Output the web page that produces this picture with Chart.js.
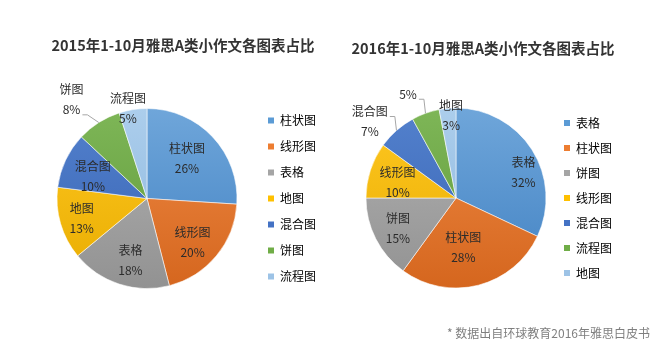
<!DOCTYPE html>
<html>
<head>
<meta charset="utf-8">
<script src="https://cdn.jsdelivr.net/npm/chart.js@4"></script>
<style>
  body { margin: 0; background: #fff; }
  #wrap { position: relative; width: 660px; height: 350px; overflow: hidden; font-family: "Noto Sans CJK SC", sans-serif; }
  canvas { position: absolute; top: 0; }
  .ttl { position: absolute; font-size: 14.5px; font-weight: bold; color: #333; white-space: nowrap; transform: translate(-50%, -50%); }
  #note { position: absolute; right: 10px; top: 324px; font-size: 12px; color: #7f7f7f; white-space: nowrap; }
</style>
</head>
<body>
<div id="wrap">
  <canvas id="pie2015" width="330" height="350" style="left:0"></canvas>
  <canvas id="pie2016" width="330" height="350" style="left:330px"></canvas>
  <div class="ttl" style="left:183px; top:44px">2015年1-10月雅思A类小作文各图表占比</div>
  <div class="ttl" style="left:483px; top:47px">2016年1-10月雅思A类小作文各图表占比</div>
  <div id="note">* 数据出自环球教育2016年雅思白皮书</div>
</div>
<script>
// 图表数据
var labels2015 = ['柱状图', '线形图', '表格', '地图', '混合图', '饼图', '流程图'];
var values2015 = [26, 20, 18, 13, 10, 8, 5];
var labels2016 = ['表格', '柱状图', '饼图', '线形图', '混合图', '流程图', '地图'];
var values2016 = [32, 28, 15, 10, 7, 5, 3];

// excel 风格配色 (浅 / 深, 做渐变)
var baseColors = ['#5B9BD5', '#ED7D31', '#A5A5A5', '#FFC000', '#4472C4', '#70AD47', '#9DC3E6'];
var lightColors = ['#6fa6da', '#ef8a45', '#b2b2b2', '#ffc822', '#5381cd', '#7eb657', '#acceec'];
var darkColors = ['#4282c3', '#d5661e', '#929292', '#e8ac00', '#3763b3', '#5f9939', '#8bb5dd'];

var fontFamily = '"Noto Sans CJK SC", sans-serif';

function sliceFill(context) {
    var i = context.dataIndex;
    var chart = context.chart;
    var area = chart.chartArea;
    if (!area) return baseColors[i];
    var cy = (area.top + area.bottom) / 2;
    var g = chart.ctx.createLinearGradient(0, cy - 90, 0, cy + 90);
    g.addColorStop(0, lightColors[i]);
    g.addColorStop(1, darkColors[i]);
    return g;
}

// 扇区标签 + 引导线
var sliceLabels = {
    id: 'sliceLabels',
    afterDatasetsDraw: function(chart, args, opts) {
        var ctx = chart.ctx;
        var meta = chart.getDatasetMeta(0);
        var data = chart.data.datasets[0].data;
        ctx.save();
        ctx.font = '12px ' + fontFamily;
        ctx.textAlign = 'center';
        ctx.textBaseline = 'middle';
        meta.data.forEach(function(arc, i) {
            var p = opts.place[i];
            var mid = (arc.startAngle + arc.endAngle) / 2;
            var ang = mid + p.da * Math.PI / 180;
            var r = arc.outerRadius * p.r;
            var x = arc.x + Math.cos(ang) * r;
            var y = arc.y + Math.sin(ang) * r;
            var lines = p.noName ? [data[i] + '%'] : [chart.data.labels[i], data[i] + '%'];
            var top = y - (lines.length - 1) * 10;
            ctx.fillStyle = '#2b2b2b';
            lines.forEach(function(t, k) {
                ctx.fillText(t, x, top + k * 20);
            });
            if (p.leader) {
                var k = p.leaderLine !== undefined ? p.leaderLine : lines.length - 1;
                var sx = x + ctx.measureText(lines[k]).width / 2 + 2;
                var sy = top + k * 20 + 5;
                var ex = arc.x + Math.cos(mid) * arc.outerRadius;
                var ey = arc.y + Math.sin(mid) * arc.outerRadius;
                ctx.strokeStyle = '#a6a6a6';
                ctx.lineWidth = 1;
                ctx.beginPath();
                ctx.moveTo(sx, sy);
                ctx.lineTo(sx + 5, sy);
                ctx.lineTo(ex, ey);
                ctx.stroke();
            }
        });
        ctx.restore();
    }
};

function makePie(id, labels, values, place, legendPad, layoutPad) {
    return new Chart(document.getElementById(id).getContext('2d'), {
        type: 'pie',
        data: {
            labels: labels,
            datasets: [{
                data: values,
                radius: 90,
                backgroundColor: sliceFill,
                borderColor: 'rgba(255,255,255,0.55)',
                borderWidth: 1,
                hoverOffset: 0
            }]
        },
        options: {
            responsive: false,
            animation: false,
            layout: { padding: layoutPad },
            plugins: {
                title: { display: false },
                tooltip: { enabled: false },
                legend: {
                    position: 'right',
                    labels: {
                        boxWidth: 6,
                        boxHeight: 6,
                        padding: legendPad,
                        color: '#333',
                        font: { family: fontFamily, size: 12 },
                        generateLabels: function(chart) {
                            return chart.data.labels.map(function(l, i) {
                                return {
                                    text: l,
                                    fillStyle: baseColors[i],
                                    strokeStyle: baseColors[i],
                                    lineWidth: 0,
                                    hidden: false,
                                    index: i
                                };
                            });
                        }
                    }
                },
                sliceLabels: { place: place }
            }
        },
        plugins: [sliceLabels]
    });
}

var pie2015 = makePie('pie2015', labels2015, values2015, [
    { r: 0.63, da: -2 },
    { r: 0.70, da: 4 },
    { r: 0.71, da: -3 },
    { r: 0.76, da: -1 },
    { r: 0.65, da: -3 },
    { r: 1.38, da: -5, leader: true },
    { r: 1.02, da: -3 }
], 14, { left: 40, right: 4, top: 60, bottom: 13 });

var pie2016 = makePie('pie2016', labels2016, values2016, [
    { r: 0.80, da: 12 },
    { r: 0.56, da: 6 },
    { r: 0.73, da: -1 },
    { r: 0.67, da: -3.5 },
    { r: 1.28, da: -7, leader: true, leaderLine: 0 },
    { r: 1.27, da: -5, leader: true, noName: true },
    { r: 0.92, da: 2 }
], 13, { left: 31, right: 38, top: 60, bottom: 14 });
</script>
</body>
</html>
